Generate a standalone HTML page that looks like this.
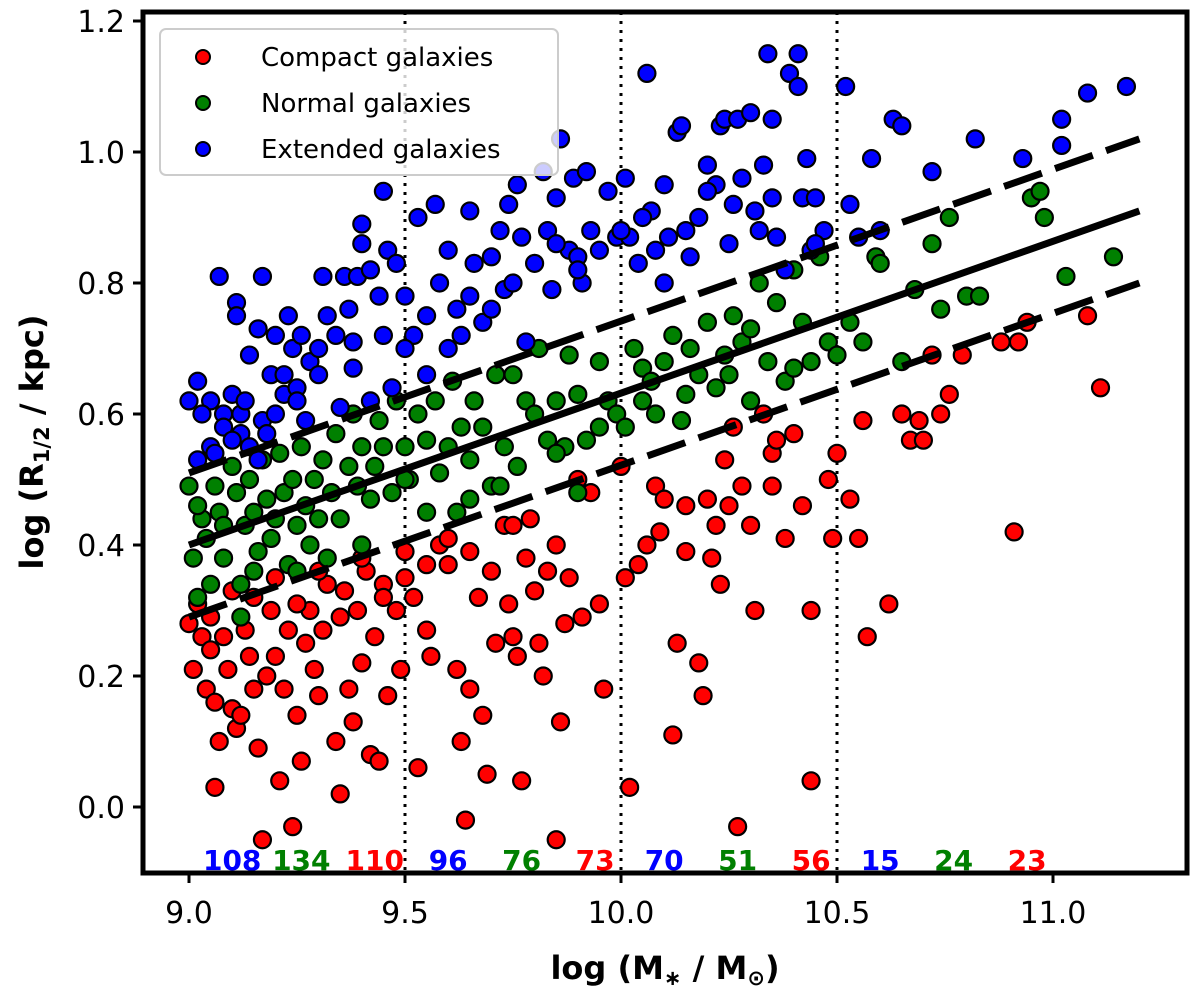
<!DOCTYPE html>
<html><head><meta charset="utf-8"><style>
body{margin:0;background:#fff;}
svg{display:block;font-family:"DejaVu Sans","Liberation Sans",sans-serif;}
</style></head><body>
<svg id="chart" width="1200" height="995">
<g id="plot"></g>
</svg>
<script>
const xTicks=[9.0,9.5,10.0,10.5,11.0];
const yTicks=[0.0,0.2,0.4,0.6,0.8,1.0,1.2];
const vLines=[9.5,10.0,10.5];
const fitX=[9.0,11.2];
const fitY=[0.40,0.91];
const fitOffset=0.11;
const countLabels=["108","134","110","96","76","73","70","51","56","15","24","23"];
const countX=[9.1,9.26,9.43,9.6,9.77,9.94,10.1,10.27,10.44,10.6,10.77,10.94];
const countColors=["#0000ff","#008000","#ff0000","#0000ff","#008000","#ff0000","#0000ff","#008000","#ff0000","#0000ff","#008000","#ff0000"];
const blue=[[9.0,0.62],[9.02,0.65],[9.05,0.62],[9.07,0.81],[9.05,0.55],[9.08,0.6],[9.1,0.63],[9.11,0.77],[9.11,0.75],[9.12,0.57],[9.14,0.69],[9.16,0.73],[9.17,0.81],[9.17,0.59],[9.19,0.66],[9.2,0.72],[9.22,0.63],[9.23,0.75],[9.24,0.7],[9.25,0.64],[9.26,0.72],[9.27,0.59],[9.28,0.68],[9.3,0.7],[9.31,0.81],[9.32,0.75],[9.34,0.72],[9.36,0.81],[9.37,0.76],[9.38,0.71],[9.39,0.81],[9.4,0.89],[9.4,0.86],[9.42,0.82],[9.44,0.78],[9.45,0.94],[9.46,0.85],[9.48,0.83],[9.5,0.78],[9.52,0.72],[9.53,0.9],[9.55,0.66],[9.57,0.92],[9.58,0.8],[9.6,0.85],[9.62,0.76],[9.63,0.72],[9.65,0.91],[9.66,0.83],[9.68,0.74],[9.7,0.84],[9.72,0.88],[9.73,0.79],[9.74,0.92],[9.76,0.95],[9.77,0.87],[9.78,0.71],[9.8,0.83],[9.82,0.97],[9.83,0.88],[9.84,0.79],[9.85,0.93],[9.86,1.02],[9.88,0.85],[9.89,0.96],[9.9,0.84],[9.91,0.8],[9.92,0.97],[9.93,0.88],[9.95,0.85],[9.97,0.94],[9.99,0.87],[10.01,0.96],[10.02,0.87],[10.04,0.83],[10.06,1.12],[10.07,0.91],[10.08,0.85],[10.1,0.95],[10.11,0.87],[10.13,1.03],[10.14,1.04],[10.16,0.84],[10.18,0.9],[10.2,0.98],[10.22,0.95],[10.23,1.04],[10.24,1.05],[10.26,0.92],[10.27,1.05],[10.28,0.96],[10.3,1.06],[10.31,0.91],[10.33,0.98],[10.34,1.15],[10.35,1.05],[10.36,0.87],[10.38,0.82],[10.39,1.12],[10.41,1.15],[10.41,1.10],[10.42,0.93],[10.43,0.99],[10.44,0.85],[10.45,0.93],[10.47,0.88],[10.52,1.10],[10.53,0.92],[10.55,0.87],[10.58,0.99],[10.6,0.88],[10.63,1.05],[10.65,1.04],[10.72,0.97],[10.82,1.02],[10.93,0.99],[11.02,1.05],[11.02,1.01],[11.08,1.09],[11.17,1.10],[9.02,0.53],[9.06,0.54],[9.08,0.58],[9.1,0.56],[9.12,0.6],[9.14,0.55],[9.16,0.53],[9.18,0.57],[9.2,0.6],[9.13,0.62],[9.03,0.6],[9.35,0.61],[9.42,0.62],[9.47,0.64],[9.6,0.7],[9.7,0.76],[9.9,0.82],[10.0,0.88],[10.1,0.8],[10.25,0.86],[10.32,0.88],[10.45,0.86],[9.55,0.75],[9.65,0.78],[9.45,0.72],[9.3,0.66],[9.25,0.62],[9.22,0.66],[9.38,0.67],[9.5,0.7],[9.75,0.8],[9.85,0.86],[10.05,0.9],[10.15,0.88],[10.2,0.94],[10.35,0.93]];
const green=[[9.0,0.49],[9.01,0.38],[9.02,0.32],[9.03,0.44],[9.04,0.41],[9.05,0.34],[9.06,0.49],[9.07,0.45],[9.08,0.38],[9.1,0.52],[9.11,0.48],[9.12,0.34],[9.13,0.43],[9.14,0.5],[9.15,0.45],[9.16,0.39],[9.17,0.53],[9.18,0.47],[9.19,0.41],[9.2,0.44],[9.21,0.54],[9.22,0.48],[9.23,0.37],[9.24,0.5],[9.25,0.43],[9.26,0.55],[9.27,0.46],[9.28,0.4],[9.29,0.5],[9.3,0.44],[9.31,0.53],[9.33,0.48],[9.34,0.57],[9.35,0.44],[9.37,0.52],[9.38,0.6],[9.39,0.49],[9.4,0.55],[9.42,0.47],[9.43,0.52],[9.44,0.59],[9.45,0.55],[9.47,0.48],[9.48,0.62],[9.5,0.55],[9.51,0.5],[9.53,0.6],[9.55,0.56],[9.57,0.62],[9.58,0.51],[9.6,0.55],[9.61,0.65],[9.63,0.58],[9.65,0.53],[9.66,0.62],[9.68,0.58],[9.7,0.49],[9.71,0.66],[9.73,0.55],[9.75,0.66],[9.76,0.52],[9.78,0.62],[9.8,0.6],[9.81,0.7],[9.83,0.56],[9.85,0.62],[9.87,0.55],[9.88,0.69],[9.9,0.63],[9.92,0.56],[9.95,0.68],[9.97,0.62],[9.99,0.6],[10.01,0.58],[10.03,0.7],[10.05,0.67],[10.07,0.65],[10.08,0.6],[10.1,0.68],[10.12,0.72],[10.14,0.59],[10.16,0.7],[10.18,0.66],[10.2,0.74],[10.22,0.64],[10.24,0.69],[10.26,0.75],[10.28,0.71],[10.3,0.73],[10.32,0.8],[10.34,0.68],[10.36,0.77],[10.38,0.65],[10.4,0.82],[10.42,0.74],[10.44,0.68],[10.46,0.84],[10.48,0.71],[10.5,0.69],[10.53,0.74],[10.56,0.71],[10.59,0.84],[10.6,0.83],[10.65,0.68],[10.68,0.79],[10.72,0.86],[10.74,0.76],[10.76,0.9],[10.8,0.78],[10.83,0.78],[10.95,0.93],[10.97,0.94],[10.98,0.9],[11.03,0.81],[11.14,0.84],[9.02,0.46],[9.08,0.43],[9.15,0.36],[9.25,0.36],[9.32,0.38],[9.4,0.4],[9.55,0.45],[9.65,0.47],[9.72,0.49],[9.85,0.54],[9.95,0.58],[10.05,0.62],[10.15,0.63],[10.25,0.66],[10.4,0.67],[10.3,0.62],[9.12,0.29],[9.5,0.5],[9.62,0.45],[9.9,0.48]];
const red=[[9.0,0.28],[9.01,0.21],[9.02,0.31],[9.03,0.26],[9.04,0.18],[9.05,0.24],[9.06,0.16],[9.07,0.1],[9.06,0.03],[9.08,0.26],[9.09,0.21],[9.1,0.15],[9.11,0.12],[9.12,0.14],[9.13,0.27],[9.14,0.23],[9.15,0.18],[9.16,0.09],[9.17,-0.05],[9.18,0.2],[9.19,0.3],[9.2,0.23],[9.21,0.04],[9.22,0.18],[9.23,0.27],[9.24,-0.03],[9.25,0.14],[9.26,0.07],[9.27,0.25],[9.28,0.3],[9.29,0.21],[9.3,0.17],[9.31,0.27],[9.32,0.34],[9.34,0.1],[9.35,0.02],[9.36,0.33],[9.37,0.18],[9.38,0.13],[9.39,0.3],[9.4,0.22],[9.41,0.36],[9.42,0.08],[9.43,0.26],[9.44,0.07],[9.45,0.34],[9.46,0.17],[9.48,0.3],[9.49,0.21],[9.5,0.35],[9.52,0.32],[9.53,0.06],[9.55,0.27],[9.56,0.23],[9.58,0.4],[9.6,0.37],[9.62,0.21],[9.63,0.1],[9.64,-0.02],[9.65,0.18],[9.67,0.32],[9.68,0.14],[9.69,0.05],[9.7,0.36],[9.71,0.25],[9.73,0.43],[9.74,0.31],[9.75,0.26],[9.76,0.23],[9.77,0.04],[9.78,0.38],[9.79,0.44],[9.8,0.33],[9.81,0.25],[9.82,0.2],[9.83,0.36],[9.85,-0.05],[9.86,0.13],[9.87,0.28],[9.88,0.35],[9.9,0.5],[9.91,0.29],[9.93,0.48],[9.95,0.31],[9.96,0.18],[10.0,0.52],[10.01,0.35],[10.02,0.03],[10.04,0.37],[10.06,0.4],[10.08,0.49],[10.09,0.42],[10.1,0.47],[10.12,0.11],[10.13,0.25],[10.15,0.39],[10.18,0.22],[10.19,0.17],[10.2,0.47],[10.21,0.38],[10.22,0.43],[10.23,0.34],[10.24,0.53],[10.26,0.58],[10.27,-0.03],[10.28,0.49],[10.3,0.43],[10.31,0.3],[10.33,0.6],[10.35,0.54],[10.36,0.56],[10.38,0.41],[10.4,0.57],[10.42,0.46],[10.44,0.3],[10.44,0.04],[10.48,0.5],[10.49,0.41],[10.5,0.54],[10.53,0.47],[10.55,0.41],[10.56,0.59],[10.57,0.26],[10.62,0.31],[10.65,0.6],[10.67,0.56],[10.69,0.59],[10.7,0.56],[10.72,0.69],[10.74,0.6],[10.76,0.63],[10.79,0.69],[10.88,0.71],[10.91,0.42],[10.92,0.71],[10.94,0.74],[11.08,0.75],[11.11,0.64],[9.1,0.33],[9.2,0.35],[9.3,0.36],[9.4,0.38],[9.5,0.39],[9.6,0.41],[9.75,0.43],[9.85,0.4],[9.65,0.39],[9.55,0.37],[9.45,0.32],[9.35,0.29],[9.25,0.31],[9.15,0.32],[9.05,0.29],[10.35,0.49],[10.25,0.46],[10.15,0.46]];

const NS="http://www.w3.org/2000/svg";
const L=143,R=1187,T=12,B=873;
function sx(v){return 189+(v-9.0)*432;}
function sy(v){return 807-v*655;}
const g=document.getElementById('plot');
function mk(tag,attrs,parent){const e=document.createElementNS(NS,tag);for(const k in attrs)e.setAttribute(k,attrs[k]);(parent||g).appendChild(e);return e;}

vLines.forEach(v=>{
  const e=mk('line',{x1:sx(v),x2:sx(v),y1:T,y2:B,stroke:'#000','stroke-width':3,'stroke-dasharray':'3,6'});
  
  
});
function drawSeries(arr,color,name){
  arr.forEach(p=>{
    const c=mk('circle',{cx:sx(p[0]),cy:sy(p[1]),r:8.5,fill:color,stroke:'#000','stroke-width':2.2});
    
    
  });
}
drawSeries(red,'#ff0000','compact-galaxy-point');
drawSeries(green,'#008000','normal-galaxy-point');
drawSeries(blue,'#0000ff','extended-galaxy-point');
const fl=mk('line',{x1:sx(fitX[0]),y1:sy(fitY[0]),x2:sx(fitX[1]),y2:sy(fitY[1]),stroke:'#000','stroke-width':7});


[fitOffset,-fitOffset].forEach(o=>{
  const d=mk('line',{x1:sx(fitX[0]),y1:sy(fitY[0]+o),x2:sx(fitX[1]),y2:sy(fitY[1]+o),stroke:'#000','stroke-width':7,'stroke-dasharray':'40,14'});
  
  
});
countLabels.forEach((t,i)=>{
  const e=mk('text',{x:sx(countX[i]),y:870,'text-anchor':'middle','font-size':28,'font-weight':'bold',fill:countColors[i]});
  e.textContent=t;
  
  
});
const fr=mk('rect',{x:L,y:T,width:R-L,height:B-T,fill:'none',stroke:'#000','stroke-width':5});


xTicks.forEach(v=>{
  const t=mk('line',{x1:sx(v),x2:sx(v),y1:B,y2:B+10,stroke:'#000','stroke-width':3});
  
  
  const l=mk('text',{x:sx(v),y:923,'text-anchor':'middle','font-size':30});
  l.textContent=v.toFixed(1);
  
  
});
yTicks.forEach(v=>{
  const t=mk('line',{x1:L-10,x2:L,y1:sy(v),y2:sy(v),stroke:'#000','stroke-width':3});
  
  
  const l=mk('text',{x:L-18,y:sy(v)+11,'text-anchor':'end','font-size':30});
  l.textContent=v.toFixed(1);
  
  
});
</script>
<svg width="1200" height="995" style="position:absolute;left:0;top:0">
<g>
<rect x="160" y="29" width="398" height="146" rx="6" fill="#fff" fill-opacity="0.8" stroke="#ccc" stroke-width="2"/>
<circle cx="203" cy="57" r="7" fill="#ff0000" stroke="#000" stroke-width="2"/>
<text x="261" y="66" font-size="26" font-family="DejaVu Sans,sans-serif">Compact galaxies</text>
<circle cx="203" cy="103" r="7" fill="#008000" stroke="#000" stroke-width="2"/>
<text x="261" y="112" font-size="26" font-family="DejaVu Sans,sans-serif">Normal galaxies</text>
<circle cx="203" cy="149" r="7" fill="#0000ff" stroke="#000" stroke-width="2"/>
<text x="261" y="158" font-size="26" font-family="DejaVu Sans,sans-serif">Extended galaxies</text>
</g>
<text x="665" y="979" text-anchor="middle" font-size="32" font-weight="bold" font-family="DejaVu Sans,sans-serif">log (M<tspan font-size="21" dy="6">∗</tspan><tspan dy="-6"> / M</tspan><tspan font-size="21" dy="6">⊙</tspan><tspan dy="-6">)</tspan></text>
<text transform="translate(43,442) rotate(-90)" text-anchor="middle" font-size="32" font-weight="bold" font-family="DejaVu Sans,sans-serif">log (R<tspan font-size="21" dy="6">1/2</tspan><tspan dy="-6"> / kpc)</tspan></text>
</svg>
</body></html>
